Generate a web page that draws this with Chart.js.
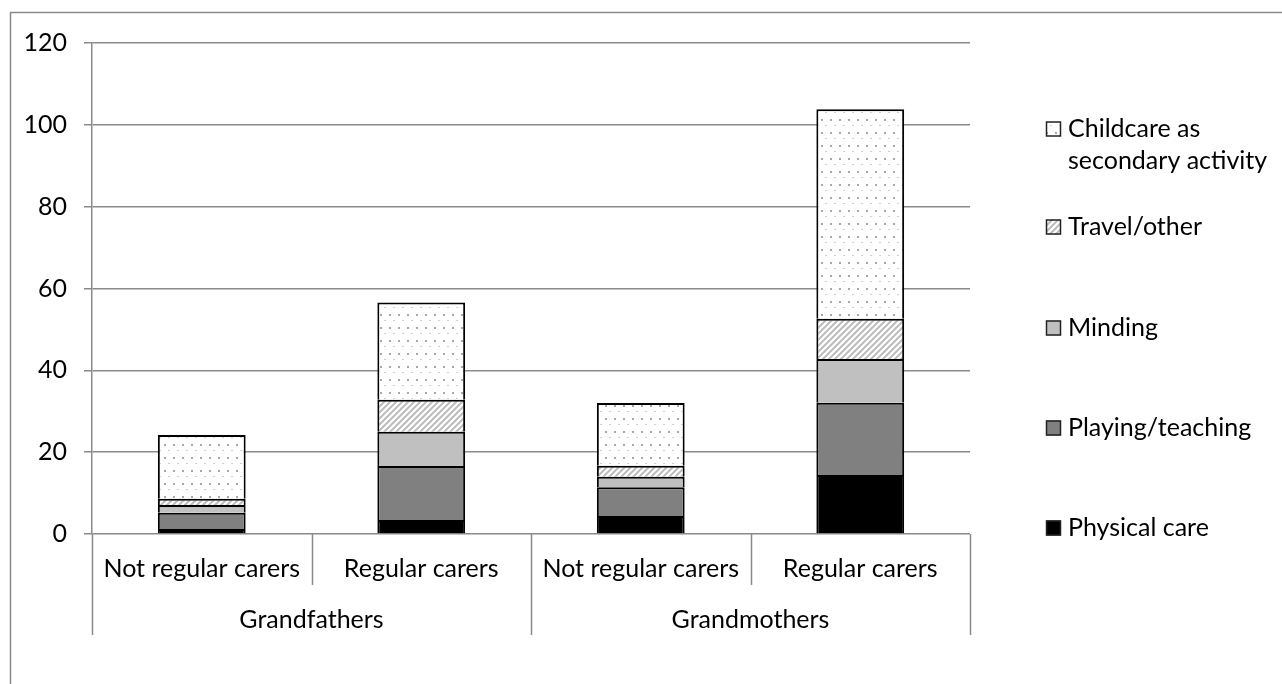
<!DOCTYPE html>
<html>
<head>
<meta charset="utf-8">
<script src="https://cdn.jsdelivr.net/npm/chart.js@4/dist/chart.umd.min.js"></script>
<style>
  html, body { margin: 0; padding: 0; background: #fff; }
  #wrap { width: 1282px; height: 684px; position: relative; }
</style>
</head>
<body>
<div id="wrap"><canvas id="c" width="1282" height="684"></canvas></div>
<script>
// Hours of childcare per week, by grandparent group and carer type
const subCategories = ['Not regular carers', 'Regular carers', 'Not regular carers', 'Regular carers'];
const groups = ['Grandfathers', 'Grandmothers'];
const physicalCare = [1.2, 3.4, 4.4, 14.4];
const playingTeaching = [4.0, 13.2, 7.0, 17.7];
const minding = [1.9, 8.4, 2.6, 10.7];
const travelOther = [1.5, 7.8, 2.7, 9.8];
const secondaryActivity = [15.6, 23.8, 15.3, 51.2];
const seriesNames = ['Physical care', 'Playing/teaching', 'Minding', 'Travel/other', 'Childcare as secondary activity'];
const yTicks = [0, 20, 40, 60, 80, 100, 120];

const FONT = 'Lato, "Open Sans", sans-serif';
const FONT_SIZE = 25;
const GRID = '#8a8a8a';

// Fill patterns: fine grey dots and light diagonal hatching
function dotPattern() {
  const t = document.createElement('canvas');
  t.width = 9; t.height = 13;
  const g = t.getContext('2d');
  g.fillStyle = '#fff'; g.fillRect(0, 0, 9, 13);
  g.fillStyle = '#a8a8a8'; g.fillRect(2, 2, 2, 2);
  g.fillStyle = '#cfcfcf'; g.fillRect(6, 8, 2, 1);
  return g.createPattern(t, 'repeat');
}
function hatchPattern() {
  const s = 6;
  const t = document.createElement('canvas');
  t.width = s; t.height = s;
  const g = t.getContext('2d');
  g.fillStyle = '#fff'; g.fillRect(0, 0, s, s);
  g.strokeStyle = '#bdbdbd'; g.lineWidth = 2;
  g.beginPath();
  g.moveTo(-1, s + 1); g.lineTo(s + 1, -1);
  g.moveTo(-1, 1); g.lineTo(1, -1);
  g.moveTo(s - 1, s + 1); g.lineTo(s + 1, s - 1);
  g.stroke();
  return g.createPattern(t, 'repeat');
}
const dots = dotPattern();
const hatch = hatchPattern();

const fills = ['#000000', '#808080', '#c0c0c0', hatch, dots];
const values = [physicalCare, playingTeaching, minding, travelOther, secondaryActivity];

// each segment outlines its top and sides, so joins between stacked segments stay single lines
const datasets = seriesNames.map((name, i) => ({
  label: name,
  data: values[i],
  backgroundColor: fills[i],
  borderColor: '#000',
  borderWidth: 2,
  borderSkipped: 'start',
  barPercentage: 0.4,
  categoryPercentage: 1.0
}));

// Frame, two-level category axis and legend
const decorations = {
  id: 'decorations',
  beforeDraw(chart) {
    const ctx = chart.ctx;
    ctx.save();
    ctx.fillStyle = '#fff';
    ctx.fillRect(0, 0, chart.width, chart.height);
    ctx.strokeStyle = GRID;
    ctx.lineWidth = 1.5;
    ctx.beginPath();
    ctx.moveTo(10.5, chart.height);
    ctx.lineTo(10.5, 12.5);
    ctx.lineTo(chart.width, 12.5);
    ctx.stroke();
    ctx.restore();
  },
  afterDraw(chart) {
    const ctx = chart.ctx;
    const x = chart.scales.x;
    const area = chart.chartArea;
    const n = subCategories.length;
    const centers = subCategories.map((_, i) => x.getPixelForValue(i));
    const step = (x.right - x.left) / n;
    const bounds = [];
    for (let i = 0; i <= n; i++) bounds.push(x.left + step * i);

    ctx.save();
    ctx.strokeStyle = GRID;
    ctx.lineWidth = 1.5;
    ctx.beginPath();
    bounds.forEach((b, i) => {
      const outer = (i % 2 === 0);
      const bx = Math.round(b) + 0.5;
      ctx.moveTo(bx, area.bottom);
      ctx.lineTo(bx, outer ? area.bottom + 101 : area.bottom + 51);
    });
    ctx.stroke();

    ctx.fillStyle = '#000';
    ctx.font = FONT_SIZE + 'px ' + FONT;
    ctx.textAlign = 'center';
    ctx.textBaseline = 'middle';
    subCategories.forEach((lab, i) => ctx.fillText(lab, centers[i], area.bottom + 35));
    groups.forEach((lab, g) => ctx.fillText(lab, (bounds[g * 2] + bounds[g * 2 + 2]) / 2, area.bottom + 86));

    // legend, last series on top
    const legendX = 1046, textX = 1068, box = 15;
    const rows = [
      { i: 4, lines: ['Childcare as', 'secondary activity'], y: 129 },
      { i: 3, lines: ['Travel/other'], y: 227 },
      { i: 2, lines: ['Minding'], y: 328 },
      { i: 1, lines: ['Playing/teaching'], y: 428 },
      { i: 0, lines: ['Physical care'], y: 528 }
    ];
    ctx.textAlign = 'left';
    rows.forEach(r => {
      ctx.fillStyle = fills[r.i];
      ctx.fillRect(legendX, r.y - box / 2, box, box);
      ctx.strokeStyle = '#222';
      ctx.lineWidth = 1.5;
      ctx.strokeRect(legendX + 0.5, r.y - box / 2 + 0.5, box - 1, box - 1);
      ctx.fillStyle = '#000';
      r.lines.forEach((ln, k) => ctx.fillText(ln, textX, r.y + k * 32));
    });
    ctx.restore();
  }
};

new Chart(document.getElementById('c'), {
  type: 'bar',
  data: { labels: subCategories, datasets },
  options: {
    responsive: false,
    animation: false,
    events: [],
    layout: { padding: { left: 0, right: 312, top: 43, bottom: 150 } },
    plugins: { legend: { display: false }, tooltip: { enabled: false } },
    scales: {
      x: {
        stacked: true,
        display: false
      },
      y: {
        stacked: true,
        min: 0,
        max: 120,
        afterBuildTicks(scale) { scale.ticks = yTicks.map(v => ({ value: v })); },
        afterFit(scale) { scale.width = 92; },
        ticks: {
          color: '#000',
          font: { family: FONT, size: FONT_SIZE },
          padding: 17
        },
        grid: { color: GRID, lineWidth: 1.5, tickLength: 8 },
        border: { color: GRID, width: 1.5 }
      }
    }
  },
  plugins: [decorations]
});
</script>
</body>
</html>
